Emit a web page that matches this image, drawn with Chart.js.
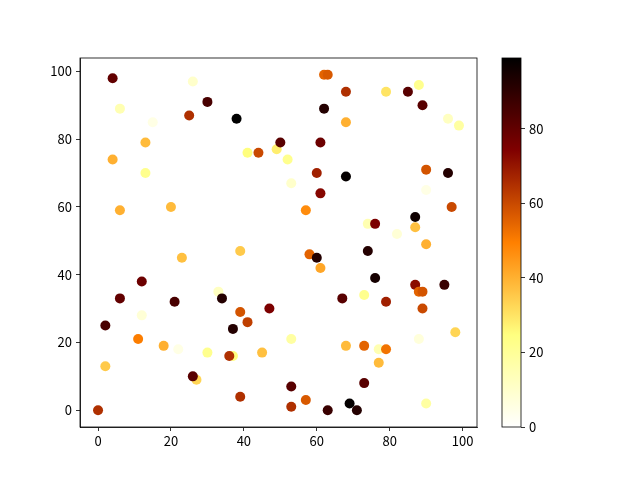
<!DOCTYPE html>
<html>
<head>
<meta charset="utf-8">
<script src="https://cdn.jsdelivr.net/npm/chart.js@4/dist/chart.umd.min.js"></script>
<style>
  html, body { margin: 0; padding: 0; background: #fff; }
  #wrap { position: relative; width: 640px; height: 480px; }
  canvas { position: absolute; left: 0; top: 0; }
</style>
</head>
<body>
<div id="wrap">
  <canvas id="main" width="640" height="480"></canvas>
  <canvas id="cbar" width="640" height="480"></canvas>
</div>
<script>
const xValues = [4, 26, 6, 30, 25, 38, 15, 13, 4, 13, 6, 20, 41, 44, 49, 50,
  62, 63, 68, 79, 85, 88, 62, 89, 68, 96, 99, 61, 52, 60, 68, 53, 61, 57,
  90, 96, 90, 97, 87, 87, 74, 76, 82, 90,
  23, 39, 12, 6, 21, 33, 34, 12, 2, 39, 41, 37, 47, 11, 18, 22, 30, 37, 36, 45, 2, 27, 26, 39, 0,
  58, 60, 61, 74, 76, 87, 88, 89, 95, 67, 73, 79, 89, 98, 53, 88, 68, 73, 77, 79, 77,
  53, 73, 53, 57, 63, 69, 71, 90];
const yValues = [98, 97, 89, 91, 87, 86, 85, 79, 74, 70, 59, 60, 76, 76, 77, 79,
  99, 99, 94, 94, 94, 96, 89, 90, 85, 86, 84, 79, 74, 70, 69, 67, 64, 59,
  71, 70, 65, 60, 57, 54, 55, 55, 52, 49,
  45, 47, 38, 33, 32, 35, 33, 28, 25, 29, 26, 24, 30, 21, 19, 18, 17, 16, 16, 17, 13, 9, 10, 4, 0,
  46, 45, 42, 47, 39, 37, 35, 35, 37, 33, 34, 32, 30, 23, 21, 21, 19, 19, 18, 18, 14,
  7, 8, 1, 3, 0, 2, 0, 2];
const cValues = [80, 10, 15, 85, 65, 99, 5, 38, 40, 22, 40, 38, 25, 60, 28, 82,
  55, 57, 65, 30, 82, 22, 92, 82, 40, 12, 18, 78, 22, 68, 98, 10, 73, 47,
  58, 92, 5, 60, 96, 37, 15, 75, 8, 40,
  37, 35, 78, 80, 85, 12, 92, 8, 85, 58, 62, 92, 75, 50, 40, 5, 22, 25, 65, 37, 35, 33, 82, 65, 65,
  55, 92, 42, 92, 95, 72, 55, 58, 88, 82, 22, 68, 60, 33, 18, 7, 38, 55, 15, 52, 38,
  82, 82, 65, 57, 88, 98, 92, 18];
const xTicks = [0, 20, 40, 60, 80, 100];
const yTicks = [0, 20, 40, 60, 80, 100];
const cbarTicks = [0, 20, 40, 60, 80];
const cMin = 0, cMax = 99;

function clamp(v) { return Math.max(0, Math.min(1, v)); }
function afmhotR(v) {
  const t = 1 - (v - cMin) / (cMax - cMin);
  const r = clamp(2 * t), g = clamp(2 * t - 0.5), b = clamp(2 * t - 1);
  return 'rgb(' + Math.round(r * 255) + ',' + Math.round(g * 255) + ',' + Math.round(b * 255) + ')';
}

const font = { family: '"Noto Sans CJK SC", "Noto Sans", sans-serif', size: 13 };
const axisGrid = { display: true, drawOnChartArea: false, drawTicks: true, tickLength: 4, color: '#000', lineWidth: 0.8 };

const framePlugin = {
  id: 'frame',
  afterDatasetsDraw(chart) {
    const a = chart.chartArea, ctx = chart.ctx;
    ctx.save();
    ctx.strokeStyle = '#000';
    ctx.lineWidth = 0.8;
    ctx.strokeRect(a.left, a.top, a.right - a.left, a.bottom - a.top);
    ctx.restore();
  }
};

new Chart(document.getElementById('main'), {
  type: 'scatter',
  data: {
    datasets: [{
      data: xValues.map((x, i) => ({ x: x, y: yValues[i] })),
      backgroundColor: cValues.map(afmhotR),
      borderWidth: 0,
      pointRadius: 5,
      pointHoverRadius: 5
    }]
  },
  options: {
    responsive: false,
    animation: false,
    devicePixelRatio: 1,
    layout: { padding: { left: 0, top: 58, right: 163, bottom: 0 } },
    plugins: { legend: { display: false }, tooltip: { enabled: false } },
    scales: {
      x: {
        type: 'linear', min: -4.95, max: 103.95,
        afterFit: s => { s.height = 53; },
        afterBuildTicks: s => { s.ticks = xTicks.map(v => ({ value: v })); },
        grid: axisGrid,
        border: { display: true, color: '#000', width: 0.8 },
        ticks: { color: '#000', font: font, padding: 2, maxRotation: 0 }
      },
      y: {
        type: 'linear', min: -4.95, max: 103.95,
        afterFit: s => { s.width = 80; },
        afterBuildTicks: s => { s.ticks = yTicks.map(v => ({ value: v })); },
        grid: axisGrid,
        border: { display: true, color: '#000', width: 0.8 },
        ticks: { color: '#000', font: font, padding: 4 }
      }
    }
  },
  plugins: [framePlugin]
});

function cbarGradient(context) {
  const chart = context.chart;
  const a = chart.chartArea;
  if (!a) return null;
  const g = chart.ctx.createLinearGradient(0, a.bottom, 0, a.top);
  for (let i = 0; i <= 40; i++) {
    g.addColorStop(i / 40, afmhotR(cMin + (cMax - cMin) * i / 40));
  }
  return g;
}

new Chart(document.getElementById('cbar'), {
  type: 'bar',
  data: {
    labels: ['c'],
    datasets: [{
      data: [[cMin, cMax]],
      backgroundColor: cbarGradient,
      borderWidth: 0,
      barPercentage: 1,
      categoryPercentage: 1
    }]
  },
  options: {
    responsive: false,
    animation: false,
    devicePixelRatio: 1,
    layout: { padding: { left: 502, top: 58, right: 0, bottom: 53 } },
    plugins: { legend: { display: false }, tooltip: { enabled: false } },
    scales: {
      x: { type: 'category', display: false },
      y: {
        position: 'right', min: cMin, max: cMax,
        afterFit: s => { s.width = 119; },
        afterBuildTicks: s => { s.ticks = cbarTicks.map(v => ({ value: v })); },
        grid: axisGrid,
        border: { display: false },
        ticks: { color: '#000', font: font, padding: 4 }
      }
    }
  },
  plugins: [framePlugin]
});
</script>
</body>
</html>
